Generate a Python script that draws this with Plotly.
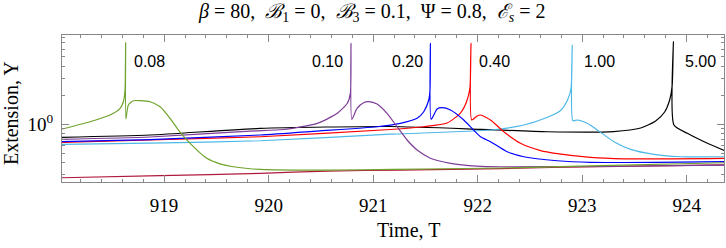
import math
import plotly.graph_objects as go

# ---- data (Time T, Extension Y) ----
green_t = [918.023, 918.291, 918.483, 918.579, 918.610, 918.626, 918.632, 918.634, 918.658, 918.706, 918.770, 918.866,
           918.962, 919.057, 919.137, 919.249, 919.409, 919.535, 919.661, 919.920, 920.590, 921.194, 922.218, 923.176, 924.364]
green_y = [0.894, 1.064, 1.248, 1.464, 1.714, 2.265, 7.03, 1.135, 1.584, 1.755, 1.755, 1.714,
           1.521, 1.154, 0.873, 0.636, 0.445, 0.390, 0.364, 0.342, 0.336, 0.342, 0.353, 0.3745, 0.4005]

crimson_t = [918.023, 918.962, 919.920, 920.561, 921.261, 922.218, 923.176, 924.364]
crimson_y = [0.280, 0.294, 0.311, 0.3286, 0.336, 0.3486, 0.3657, 0.380]

purple_t = [918.023, 918.866, 919.824, 920.140, 920.466, 920.657, 920.753, 920.782, 920.788, 920.796, 920.846, 920.909,
            920.957, 921.037, 921.133, 921.229, 921.325, 921.421, 921.548, 921.740, 921.995, 922.218, 923.176, 924.364]
purple_y = [0.699, 0.739, 0.852, 0.884, 1.024, 1.300, 1.650, 2.094, 6.90, 1.127, 1.464, 1.673,
            1.714, 1.623, 1.300, 0.944, 0.688, 0.542, 0.445, 0.395, 0.370, 0.364, 0.366, 0.379]

blue_t = [918.023, 918.866, 919.920, 920.466, 921.037, 921.260, 921.421, 921.484, 921.532, 921.544, 921.548, 921.555,
          921.612, 921.660, 921.740, 921.867, 922.027, 922.123, 922.283, 922.442, 922.761, 923.080, 923.719, 924.364]
blue_y = [0.661, 0.696, 0.775, 0.852, 0.944, 1.024, 1.154, 1.350, 1.785, 2.265, 6.90, 1.127,
          1.440, 1.485, 1.406, 1.108, 0.744, 0.661, 0.520, 0.462, 0.420, 0.404, 0.404, 0.412]

red_t = [918.023, 918.866, 919.920, 921.165, 921.481, 921.708, 921.835, 921.893, 921.926, 921.936, 921.943,
         921.995, 922.027, 922.123, 922.250, 922.410, 922.602, 922.762, 923.080, 923.397, 924.364]
red_y = [0.651, 0.688, 0.744, 0.884, 0.944, 1.031, 1.309, 1.702, 2.376, 6.90, 1.108,
         1.219, 1.248, 1.108, 0.838, 0.636, 0.535, 0.498, 0.455, 0.440, 0.445]

lblue_t = [918.023, 918.866, 919.920, 921.165, 922.123, 922.442, 922.650, 922.793, 922.860, 922.894, 922.905, 922.911,
           922.953, 923.049, 923.145, 923.304, 923.464, 923.687, 923.942, 924.364]
lblue_y = [0.621, 0.640, 0.676, 0.790, 0.873, 0.983, 1.162, 1.390, 1.785, 2.376, 6.62, 1.090,
           1.108, 1.024, 0.873, 0.661, 0.551, 0.489, 0.462, 0.462]

black_t = [918.023, 918.866, 919.920, 921.165, 922.027, 922.666, 923.301, 923.560, 923.703, 923.789, 923.837, 923.861,
           923.873, 923.878, 924.006, 924.198, 924.364]
black_y = [0.734, 0.775, 0.909, 0.949, 0.888, 0.838, 0.842, 0.916, 1.082, 1.341, 1.785, 2.509,
           7.16, 0.983, 0.807, 0.636, 0.533]

labels = ["0.08", "0.10", "0.20", "0.40", "1.00", "5.00"]
label_t = [918.69, 920.734, 921.500, 921.995, 923.001, 923.968]
label_anchor = ["left", "right", "right", "left", "left", "left"]
label_y = 4.52

x_major = [919, 920, 921, 922, 923, 924]
y_minor = [0.3, 0.4, 0.5, 0.6, 0.7, 0.8, 0.9, 2, 3, 4, 5, 6, 7, 8]

series = [
    (crimson_t, crimson_y, "#b0193c"),
    (black_t, black_y, "#000000"),
    (lblue_t, lblue_y, "#4db8e8"),
    (red_t, red_y, "#ff0000"),
    (blue_t, blue_y, "#0000ff"),
    (purple_t, purple_y, "#7d3c98"),
    (green_t, green_y, "#6fa32b"),
]

SERIF = "Liberation Serif, Times New Roman, serif"
SANS = "Liberation Sans, Arial, sans-serif"

fig = go.Figure()
for t, y, c in series:
    fig.add_trace(go.Scatter(x=t, y=y, mode="lines",
                             line=dict(color=c, width=1.2, shape="spline", smoothing=0.6),
                             showlegend=False, hoverinfo="skip"))

for lab, t, a in zip(labels, label_t, label_anchor):
    fig.add_annotation(x=t, y=math.log10(label_y), text=lab, showarrow=False,
                       xanchor=a, yanchor="middle",
                       font=dict(family=SANS, size=16, color="black"))

# title and axis titles as paper-positioned annotations
fig.add_annotation(xref="paper", yref="paper", x=0.468, y=1.156, xanchor="center", yanchor="middle",
                   showarrow=False,
                   text="<i>β</i> = 80,&nbsp;&nbsp;<i>ℬ</i><sub>1</sub> = 0,&nbsp;&nbsp;<i>ℬ</i><sub>3</sub> = 0.1,&nbsp;&nbsp;Ψ = 0.8,&nbsp;&nbsp;<i>ℰ</i><sub><i>s</i></sub> = 2",
                   font=dict(family=SERIF, size=20, color="black"))
fig.add_annotation(xref="paper", yref="paper", x=0.524, y=-0.3265, xanchor="center", yanchor="middle",
                   showarrow=False, text="Time, T", font=dict(family=SERIF, size=20, color="black"))
fig.add_annotation(xref="paper", yref="paper", x=-0.077, y=0.469, xanchor="center", yanchor="middle",
                   showarrow=False, text="Extension, Y", textangle=-90,
                   font=dict(family=SERIF, size=20, color="black"))

axis_col = "#888888"
fig.update_layout(
    width=726, height=248,
    margin=dict(l=62, r=2, t=35, b=66, autoexpand=False),
    paper_bgcolor="white", plot_bgcolor="white",
    font=dict(family=SERIF, size=19, color="black"),
    xaxis=dict(range=[918.023, 924.357], tickmode="array", tickvals=x_major,
               ticktext=[str(v) for v in x_major], automargin=False,
               ticks="inside", ticklen=7, tickcolor=axis_col, tickwidth=1, ticklabelstandoff=6,
               minor=dict(tickmode="linear", tick0=918, dtick=0.2, ticks="inside", ticklen=3,
                          tickcolor=axis_col, showgrid=False),
               showline=True, linecolor=axis_col, linewidth=1, mirror="ticks",
               showgrid=False, zeroline=False,
               tickfont=dict(family=SERIF, size=19)),
    yaxis=dict(type="log", range=[math.log10(0.253), math.log10(8.4)], automargin=False,
               tickmode="array", tickvals=[1], ticktext=["10<sup>0</sup>"],
               ticks="inside", ticklen=7, tickcolor=axis_col, tickwidth=1, ticklabelstandoff=4,
               minor=dict(tickmode="array", tickvals=y_minor, ticks="inside", ticklen=3,
                          tickcolor=axis_col, showgrid=False),
               showline=True, linecolor=axis_col, linewidth=1, mirror="ticks",
               showgrid=False, zeroline=False,
               tickfont=dict(family=SERIF, size=19)),
)

fig.write_html("out.html", config={"displayModeBar": False},
               post_script="document.body.style.margin='0';document.body.style.padding='0';"
                           "document.body.style.overflow='hidden';")
